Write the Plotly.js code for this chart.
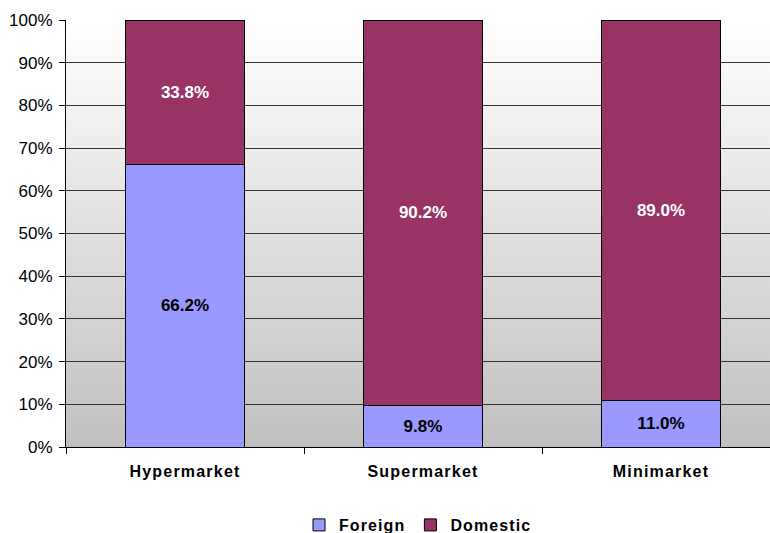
<!DOCTYPE html>
<html>
<head>
<meta charset="utf-8">
<script src="https://cdn.plot.ly/plotly-3.0.1.min.js"></script>
<style>
html,body{margin:0;padding:0;background:#fff;}
#chart{width:770px;height:533px;}
.xtick text{letter-spacing:1.2px;}
.legendtext{letter-spacing:1.1px;}
</style>
</head>
<body>
<div id="chart"></div>
<script>
const categories = ["Hypermarket", "Supermarket", "Minimarket"];
const foreign = [66.2, 9.8, 11.0];
const domestic = [33.8, 90.2, 89.0];
const yTicks = [0, 10, 20, 30, 40, 50, 60, 70, 80, 90, 100];
const yTickText = yTicks.map(v => v + "%");

const FONT = "Arial, 'Liberation Sans', sans-serif";

const gradSvg = '<svg xmlns="http://www.w3.org/2000/svg" width="10" height="100" preserveAspectRatio="none">' +
  '<defs><linearGradient id="g" x1="0" y1="0" x2="0" y2="1">' +
  '<stop offset="0" stop-color="#ffffff"/><stop offset="1" stop-color="#c0c0c0"/>' +
  '</linearGradient></defs><rect width="10" height="100" fill="url(#g)"/></svg>';
const gradUri = "data:image/svg+xml;charset=utf-8," + encodeURIComponent(gradSvg);

const traces = [
  {
    type: "bar", name: "Foreign", x: categories, y: foreign,
    marker: {color: "#9999ff", line: {color: "#000", width: 1}},
    texttemplate: "%{y:.1f}%", textposition: "inside", insidetextanchor: "middle",
    textfont: {family: FONT, size: 17, color: "#000", weight: "bold"},
    constraintext: "none", hoverinfo: "none"
  },
  {
    type: "bar", name: "Domestic", x: categories, y: domestic,
    marker: {color: "#993366", line: {color: "#000", width: 1}},
    texttemplate: "%{y:.1f}%", textposition: "inside", insidetextanchor: "middle",
    textfont: {family: FONT, size: 17, color: "#fff", weight: "bold"},
    constraintext: "none", hoverinfo: "none"
  }
];

const layout = {
  width: 770, height: 533,
  margin: {l: 66, r: 0, t: 20, b: 86},
  paper_bgcolor: "#fff",
  plot_bgcolor: "rgba(0,0,0,0)",
  barmode: "stack",
  bargap: 0.496,
  showlegend: true,
  font: {family: FONT, color: "#000"},
  images: [{
    source: gradUri, xref: "paper", yref: "paper",
    x: 0, y: 1, sizex: 1, sizey: 1, sizing: "stretch", layer: "below",
    xanchor: "left", yanchor: "top"
  }],
  xaxis: {
    type: "category",
    range: [-0.5, 2.458],
    showline: true, linecolor: "#000", linewidth: 1,
    ticks: "outside", tickson: "boundaries", ticklen: 6, tickcolor: "#000",
    ticklabelstandoff: 10,
    showgrid: false, zeroline: false,
    tickfont: {family: FONT, size: 16, color: "#000", weight: "bold"}
  },
  yaxis: {
    range: [0, 100],
    tickmode: "array", tickvals: yTicks, ticktext: yTickText,
    showline: true, linecolor: "#000", linewidth: 1,
    ticks: "outside", ticklen: 6, tickcolor: "#000",
    ticklabelstandoff: 3,
    showgrid: true, gridcolor: "#333", gridwidth: 1,
    zeroline: false,
    tickfont: {family: FONT, size: 17, color: "#000"}
  },
  legend: {
    orientation: "h", x: 0.5, xanchor: "center",
    yref: "container", y: 0.015, yanchor: "middle",
    font: {family: FONT, size: 16, color: "#000", weight: "bold"},
    traceorder: "normal", bgcolor: "rgba(0,0,0,0)"
  }
};

Plotly.newPlot("chart", traces, layout, {staticPlot: true, displayModeBar: false});
</script>
</body>
</html>
